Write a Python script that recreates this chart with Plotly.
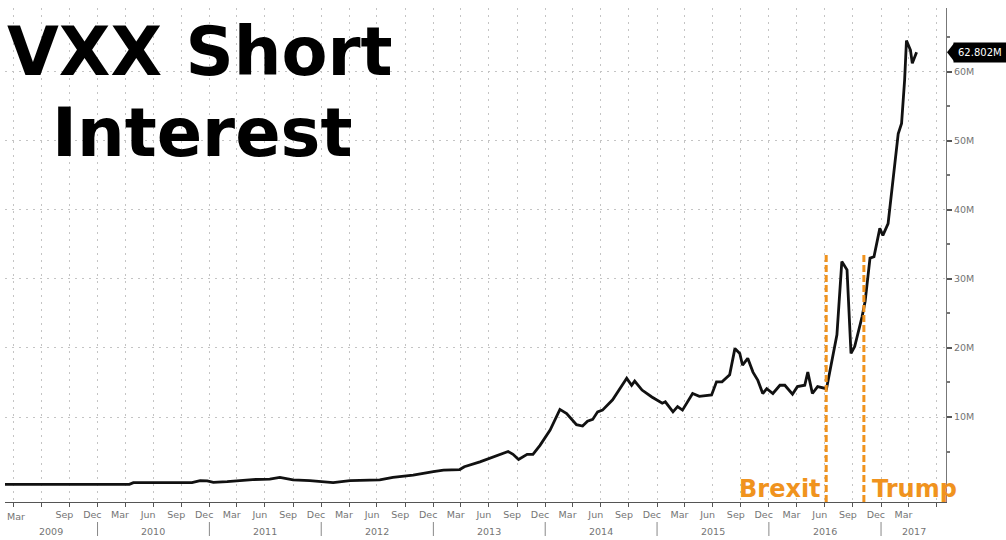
import plotly.graph_objects as go
import pandas as pd

# ---- data ----
dates = [
    "2009-03-05", "2009-09-01", "2010-04-15", "2010-04-28", "2010-11-05", "2010-12-02",
    "2010-12-25", "2011-01-14", "2011-02-28", "2011-05-22", "2011-07-17", "2011-08-19",
    "2011-10-01", "2011-11-25", "2012-02-09", "2012-04-04", "2012-07-10", "2012-08-22",
    "2012-10-27", "2013-01-01", "2013-02-03", "2013-03-28", "2013-04-12", "2013-06-02",
    "2013-07-10", "2013-08-12", "2013-09-02", "2013-09-18", "2013-10-06", "2013-11-03",
    "2013-11-22", "2013-12-15", "2014-01-17", "2014-02-18", "2014-03-12", "2014-04-13",
    "2014-05-03", "2014-05-19", "2014-06-05", "2014-06-21", "2014-07-07", "2014-08-09",
    "2014-09-24", "2014-10-10", "2014-10-20", "2014-11-13", "2014-12-15", "2015-01-18",
    "2015-01-28", "2015-02-22", "2015-03-09", "2015-03-25", "2015-04-27", "2015-05-19",
    "2015-06-28", "2015-07-14", "2015-08-01", "2015-08-26", "2015-09-12", "2015-09-28",
    "2015-10-07", "2015-10-24", "2015-11-10", "2015-11-26", "2015-12-12", "2015-12-25",
    "2016-01-14", "2016-02-06", "2016-02-22", "2016-03-18", "2016-04-03", "2016-04-27",
    "2016-05-07", "2016-05-22", "2016-06-08", "2016-07-07", "2016-07-24", "2016-08-10",
    "2016-08-26", "2016-09-12", "2016-09-25", "2016-10-07", "2016-10-31", "2016-11-10",
    "2016-11-26", "2016-12-09", "2016-12-28", "2017-01-07", "2017-01-24", "2017-02-09",
    "2017-02-26", "2017-03-09", "2017-03-19", "2017-03-25", "2017-04-07", "2017-04-13",
    "2017-04-27",
]
short_interest_m = [
    0.25, 0.25, 0.25, 0.5, 0.5, 0.8,
    0.75, 0.55, 0.65, 0.95, 1.0, 1.25,
    0.9, 0.8, 0.5, 0.8, 0.9, 1.25,
    1.6, 2.1, 2.3, 2.4, 2.8, 3.5,
    4.15, 4.6, 5.0, 4.6, 3.85, 4.6,
    4.6, 5.9, 8.1, 11.1, 10.5, 8.9,
    8.7, 9.4, 9.65, 10.75, 11.0, 12.5,
    15.6, 14.6, 15.2, 13.9, 12.9, 12.0,
    12.2, 10.75, 11.5, 11.0, 13.4, 13.0,
    13.2, 15.1, 15.1, 16.1, 19.9, 19.2,
    17.5, 18.5, 16.5, 15.3, 13.4, 14.1,
    13.4, 14.6, 14.6, 13.3, 14.4, 14.6,
    16.5, 13.4, 14.4, 14.1, 18.0, 21.9,
    32.5, 31.3, 19.2, 20.2, 24.5, 26.7,
    33.0, 33.2, 37.3, 36.3, 38.0, 44.3,
    51.0, 52.5, 58.8, 64.5, 63.1, 61.2,
    62.802,
]
last_label = "62.802M"

# month tick labels (placed mid-month) and year labels
month_ticks = [
    "2009-03-15", "2009-09-15", "2009-12-15",
    "2010-03-15", "2010-06-15", "2010-09-15", "2010-12-15",
    "2011-03-15", "2011-06-15", "2011-09-15", "2011-12-15",
    "2012-03-15", "2012-06-15", "2012-09-15", "2012-12-15",
    "2013-03-15", "2013-06-15", "2013-09-15", "2013-12-15",
    "2014-03-15", "2014-06-15", "2014-09-15", "2014-12-15",
    "2015-03-15", "2015-06-15", "2015-09-15", "2015-12-15",
    "2016-03-15", "2016-06-15", "2016-09-15", "2016-12-15",
    "2017-03-15",
]
month_text = [pd.Timestamp(d).strftime("%b") for d in month_ticks]
years = ["2009", "2010", "2011", "2012", "2013", "2014", "2015", "2016", "2017"]

events = [("Brexit", "2016-07-06"), ("Trump", "2016-11-06")]

x_start, x_end = "2009-03-05", "2017-08-01"
y_min, y_max = -2.3, 69.2

ORANGE = "#F0931E"
GRID = "#c4c4c4"
TXT = "#747474"

fig = go.Figure()
fig.add_trace(go.Scatter(
    x=dates, y=short_interest_m, mode="lines",
    line=dict(color="#111111", width=2.8), hoverinfo="skip", showlegend=False,
))

quarter_starts = [d.strftime("%Y-%m-%d") for d in pd.date_range("2009-04-01", "2017-07-01", freq="QS-JAN")]

fig.update_layout(
    width=1006, height=540,
    margin=dict(l=5, r=60, t=8, b=38),
    paper_bgcolor="white", plot_bgcolor="white",
    font=dict(family="DejaVu Sans", size=10, color=TXT),
    xaxis=dict(
        type="date", range=[x_start, x_end],
        tickmode="array", tickvals=month_ticks[1:], ticktext=month_text[1:],
        ticks="", showgrid=False, zeroline=False,
        showline=True, linecolor="#555555", linewidth=1.2,
        tickfont=dict(size=9.5, color=TXT, family="DejaVu Sans"),
        ticklabelstandoff=3,
        minor=dict(tickmode="array", tickvals=quarter_starts, showgrid=True,
                   gridcolor=GRID, griddash="2px,5px", gridwidth=1,
                   ticks="outside", ticklen=4, tickcolor="#555555", tickwidth=1),
    ),
    yaxis=dict(
        side="right", range=[y_min, y_max],
        tickmode="array", tickvals=[10, 20, 30, 40, 50, 60],
        ticktext=["10M", "20M", "30M", "40M", "50M", "60M"],
        showgrid=True, gridcolor=GRID, griddash="2px,5px", gridwidth=1,
        zeroline=False, showline=True, linecolor="#777777", linewidth=1.2,
        ticks="outside", ticklen=5, tickwidth=2, tickcolor="#555555",
        tickfont=dict(size=9.5, color=TXT, family="DejaVu Sans"),
        minor=dict(tickmode="array", tickvals=[5, 15, 25, 35, 45, 55, 65],
                   ticks="outside", ticklen=3, tickcolor="#777777", showgrid=False),
    ),
)

# first month label (kept inside the left edge)
fig.add_annotation(xref="paper", yref="paper", x=0.0, y=-14 / 494, text=month_text[0],
                   showarrow=False, xanchor="left", yanchor="middle",
                   font=dict(family="DejaVu Sans", size=9.5, color=TXT))

# event lines and labels
for name, d in events:
    fig.add_shape(type="line", xref="x", yref="y", x0=d, x1=d, y0=y_min, y1=33.6,
                  line=dict(color=ORANGE, width=3, dash="7px,3px"), layer="above")
fig.add_annotation(xref="paper", yref="paper", x=(780 - 5) / 941, y=(502 - 489) / 494,
                   text="<b>Brexit</b>", showarrow=False,
                   font=dict(family="DejaVu Sans", size=24, color=ORANGE),
                   xanchor="center", yanchor="middle")
fig.add_annotation(xref="paper", yref="paper", x=(914 - 5) / 941, y=(502 - 489) / 494,
                   text="<b>Trump</b>", showarrow=False,
                   font=dict(family="DejaVu Sans", size=24, color=ORANGE),
                   xanchor="center", yanchor="middle")

# title
fig.add_annotation(xref="paper", yref="paper", x=(200 - 5) / 941, y=(502 - 52) / 494,
                   text="<b>VXX Short</b>", showarrow=False,
                   font=dict(family="DejaVu Sans", size=67, color="black"),
                   xanchor="center", yanchor="middle")
fig.add_annotation(xref="paper", yref="paper", x=(202 - 5) / 941, y=(502 - 133) / 494,
                   text="<b>Interest</b>", showarrow=False,
                   font=dict(family="DejaVu Sans", size=67, color="black"),
                   xanchor="center", yanchor="middle")

# last value callout with pointer
last = short_interest_m[-1]
fig.add_shape(type="path", xref="paper", yref="y",
              path=f"M {1.0 + 1/941},{last} L {1.0 + 8/941},{last + 1.3} L {1.0 + 8/941},{last - 1.3} Z",
              fillcolor="black", line=dict(width=0))
fig.add_annotation(xref="paper", yref="y", x=1.0 + 7 / 941, y=last,
                   text=last_label, showarrow=False, xanchor="left", yanchor="middle",
                   bgcolor="black", font=dict(family="DejaVu Sans", size=10, color="white"),
                   borderpad=4)

# year labels and separators
for i, yr in enumerate(years):
    a = max(pd.Timestamp(f"{yr}-01-01"), pd.Timestamp(x_start))
    b = min(pd.Timestamp(f"{int(yr)+1}-01-01"), pd.Timestamp(x_end))
    mid = a + (b - a) / 2
    fig.add_annotation(xref="x", yref="paper", x=mid, y=-29 / 494, text=yr,
                       showarrow=False, xanchor="center", yanchor="middle",
                       font=dict(family="DejaVu Sans", size=9.5, color=TXT))
    if i > 0:
        fig.add_shape(type="line", xref="x", yref="paper",
                      x0=f"{yr}-01-01", x1=f"{yr}-01-01", y0=-20 / 494, y1=-34 / 494,
                      line=dict(color="#888888", width=1))

fig.write_html("out.html", config={"displayModeBar": False},
               post_script="document.body.style.margin='0';")
